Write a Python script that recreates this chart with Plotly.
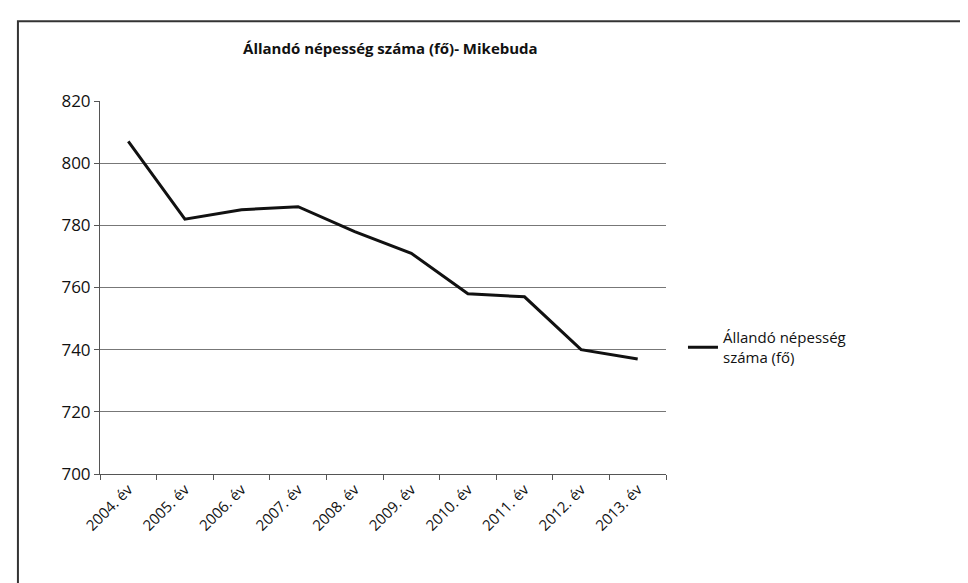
import plotly.graph_objects as go

years = ["2004. év", "2005. év", "2006. év", "2007. év", "2008. év",
         "2009. év", "2010. év", "2011. év", "2012. év", "2013. év"]
population = [807, 782, 785, 786, 778, 771, 758, 757, 740, 737]
series_name = "Állandó népesség<br>száma (fő)"
title = "Állandó népesség száma (fő)- Mikebuda"

fig = go.Figure()
fig.add_trace(go.Scatter(
    x=years, y=population, mode="lines", name=series_name,
    line=dict(color="#111111", width=3),
))

fig.update_layout(
    width=968, height=583,
    paper_bgcolor="white", plot_bgcolor="white",
    font=dict(family="Open Sans", color="#111111"),
    title=dict(text="<b>" + title + "</b>", x=0.395, xanchor="center",
               y=0.93, yanchor="middle", font=dict(size=15)),
    margin=dict(l=92, r=310, t=93, b=117),
    showlegend=True,
    legend=dict(x=1.03, y=0.34, xanchor="left", yanchor="middle",
                font=dict(size=15), bgcolor="rgba(0,0,0,0)"),
)
fig.update_xaxes(
    range=[-0.5, 9.5],
    showline=True, linecolor="#555555", ticks="outside", tickson="boundaries",
    ticklen=5, tickcolor="#555555", tickangle=-45, tickfont=dict(size=15),
    showgrid=False,
)
fig.update_yaxes(
    range=[700, 820], dtick=20, showline=True, linecolor="#555555",
    ticks="outside", ticklen=5, tickcolor="#555555", tickfont=dict(size=17),
    showgrid=True, gridcolor="#777777", gridwidth=1, zeroline=False,
)
fig.add_shape(type="rect", xref="paper", yref="paper",
              x0=-0.145, x1=1.6, y0=-0.33, y1=1.214,
              line=dict(color="#333333", width=2))

fig.write_html("out.html")
